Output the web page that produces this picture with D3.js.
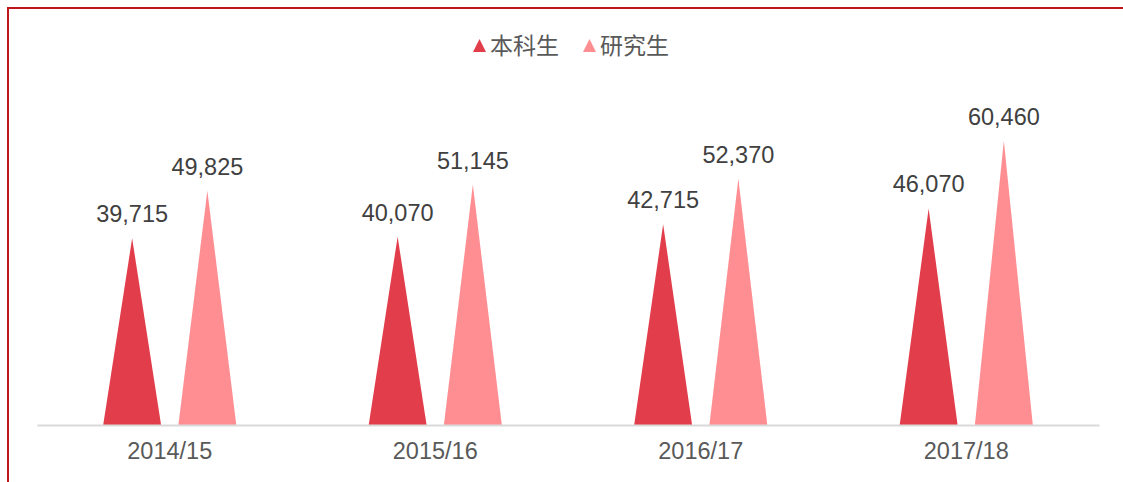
<!DOCTYPE html>
<html>
<head>
<meta charset="utf-8">
<script src="https://cdn.jsdelivr.net/npm/d3@7"></script>
<style>
  body { margin: 0; background: #fff; }
  text { font-family: "Liberation Sans", Arial, "Noto Sans CJK SC", sans-serif; }
</style>
</head>
<body>
<div id="chart"></div>
<script>
const width = 1123;
const height = 482;

// data
const years = ["2014/15", "2015/16", "2016/17", "2017/18"];
const series = ["本科生", "研究生"];
const undergrad = [39715, 40070, 42715, 46070];
const postgrad = [49825, 51145, 52370, 60460];
const colors = ["#E23D4B", "#FF8E93"];

const values = [undergrad, postgrad];

const svg = d3.select("#chart")
    .append("svg")
    .attr("width", width)
    .attr("height", height);

// red frame (runs off the right and bottom edge)
svg.append("rect")
    .attr("x", 8)
    .attr("y", 8)
    .attr("width", width + 20)
    .attr("height", height + 20)
    .attr("fill", "none")
    .attr("stroke", "#C0141E")
    .attr("stroke-width", 2);

const x0 = d3.scaleBand()
    .domain(years)
    .range([37, 1099]);

const x1 = d3.scaleBand()
    .domain(series)
    .range([0, x0.bandwidth()])
    .paddingInner(0.23)
    .paddingOuter(0.88);

const y = d3.scaleLinear()
    .domain([0, 70000])
    .range([425, 96]);

// triangles
series.forEach((s, si) => {
    const g = svg.append("g");
    g.selectAll("path")
        .data(years)
        .enter()
        .append("path")
        .attr("d", (d, i) => {
            const left = x0(d) + x1(s);
            const bw = x1.bandwidth();
            return `M${left},${y(0)}L${left + bw / 2},${y(values[si][i])}L${left + bw},${y(0)}Z`;
        })
        .attr("fill", colors[si]);

    g.selectAll("text")
        .data(years)
        .enter()
        .append("text")
        .attr("x", d => x0(d) + x1(s) + x1.bandwidth() / 2)
        .attr("y", (d, i) => y(values[si][i]) - 16)
        .attr("text-anchor", "middle")
        .attr("font-size", 23.5)
        .attr("fill", "#404040")
        .text((d, i) => d3.format(",")(values[si][i]));
});

// axis
const xAxis = svg.append("g")
    .attr("transform", `translate(0,${y(0)})`)
    .call(d3.axisBottom(x0).tickSize(0).tickPadding(17));
xAxis.select(".domain").attr("stroke", "#D9D9D9").attr("stroke-width", 2);
xAxis.selectAll("text")
    .attr("font-size", 23.5)
    .attr("fill", "#595959")
    .attr("font-family", "Liberation Sans, Arial, sans-serif");

// legend
const legendX = [473, 583];
series.forEach((s, i) => {
    const lg = svg.append("g").attr("transform", `translate(${legendX[i]},0)`);
    lg.append("path")
        .attr("d", "M0,52L6.5,39L13,52Z")
        .attr("fill", colors[i]);
    lg.append("text")
        .attr("x", 17)
        .attr("y", 54)
        .attr("font-size", 23)
        .attr("fill", "#595959")
        .text(s);
});
</script>
</body>
</html>
